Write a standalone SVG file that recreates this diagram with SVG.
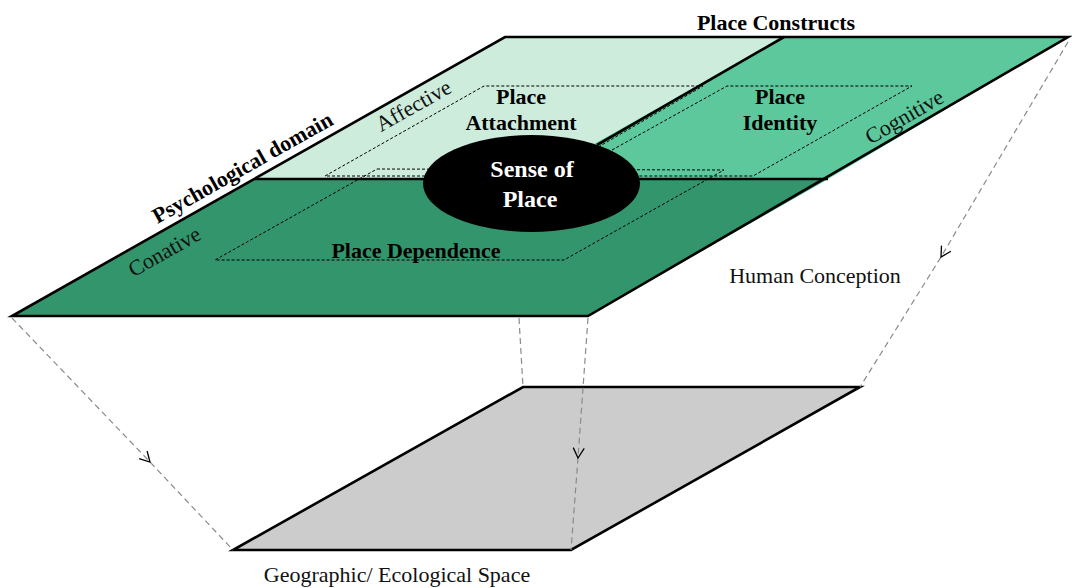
<svg xmlns="http://www.w3.org/2000/svg" width="1072" height="588" viewBox="0 0 1072 588">
<style>
.edge{fill:none;stroke:#000;stroke-width:2.6;stroke-linejoin:miter}
.dash{fill:none;stroke:#000;stroke-width:1;stroke-dasharray:3 2}
.conn{fill:none;stroke:#8a8a8a;stroke-width:1.2;stroke-dasharray:6 4}
.b{font-family:"Liberation Serif","Times New Roman",serif;font-weight:bold;font-size:22px;fill:#000;text-anchor:middle}
.r{font-family:"Liberation Serif","Times New Roman",serif;font-size:22px;fill:#111;text-anchor:middle}
.w{font-family:"Liberation Serif","Times New Roman",serif;font-weight:bold;font-size:24px;fill:#fff;text-anchor:middle}
</style>
<defs>
<marker id="chev" viewBox="-12 -7 14 14" markerWidth="14" markerHeight="14" markerUnits="userSpaceOnUse" orient="auto" refX="0" refY="0">
<path d="M-10,-5.5 L0,0 L-10,5.5" fill="none" stroke="#000" stroke-width="1.3"/>
</marker>
</defs>
<rect width="1072" height="588" fill="#fff"/>

<g id="geographic-space">
<polygon points="523,387 860,387 571,550 233,550" fill="#cccccc"/>
<polygon class="edge" points="523,387 860,387 571,550 233,550"/>
<text class="r" x="397" y="582">Geographic/ Ecological Space</text>
</g>

<g id="human-conception">
<polygon id="affective-region" points="505,37 784,37 532,179 255,179" fill="#cdecdc"/>
<polygon id="cognitive-region" points="784,37 1068,37 828,179 532,179" fill="#5dc89b"/>
<polygon id="conative-region" points="255,179 828,179 588,316 12,316" fill="#33956c"/>
<polyline class="edge" points="255,179 828,179"/>
<polyline class="edge" points="784,37 597,145"/>
<polygon class="edge" points="505,37 1068,37 588,316 12,316"/>
<text class="r" x="815" y="283">Human Conception</text>
</g>

<g id="place-attachment">
<polyline class="dash" points="430,176 325,176 484,86 703,86 600,146"/>
<text class="b" x="521" y="104">Place</text>
<text class="b" x="521" y="130">Attachment</text>
</g>

<g id="place-identity">
<polyline class="dash" points="612,150 727,86 912,86 753,176 635,176"/>
<text class="b" x="780" y="104">Place</text>
<text class="b" x="780" y="130">Identity</text>
</g>

<g id="place-dependence">
<polygon class="dash" points="377,169 724,170 564,260 215,260"/>
<text class="b" x="416" y="258">Place Dependence</text>
</g>

<g id="sense-of-place">
<ellipse cx="531.5" cy="183.5" rx="108.5" ry="48.5" fill="#000"/>
<text class="w" x="532" y="177">Sense of</text>
<text class="w" x="530" y="207">Place</text>
</g>

<g id="labels">
<text class="b" x="776" y="30">Place Constructs</text>
<text class="b" transform="translate(246,174) rotate(-29.5)">Psychological domain</text>
<text class="r" transform="translate(417,112) rotate(-29.5)">Affective</text>
<text class="r" transform="translate(168,258) rotate(-29.5)">Conative</text>
<text class="r" transform="translate(908,123) rotate(-30)">Cognitive</text>
</g>

<g id="connectors">
<path class="conn" d="M12,318 L150,462 L233,550" marker-mid="url(#chev)"/>
<path class="conn" d="M519,318 L523,387"/>
<path class="conn" d="M588,318 L578,458 L571,550" marker-mid="url(#chev)"/>
<path class="conn" d="M1068,42 L941,257 L860,387" marker-mid="url(#chev)"/>
</g>
</svg>
